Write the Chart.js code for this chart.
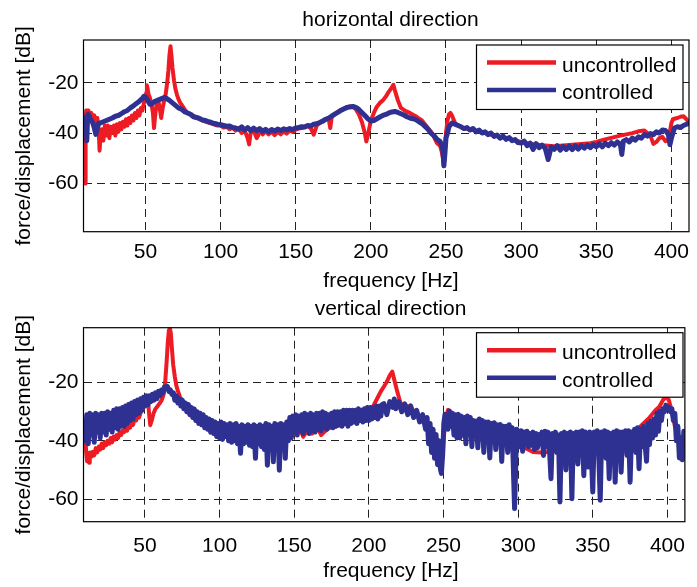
<!DOCTYPE html>
<html>
<head>
<meta charset="utf-8">
<script src="https://cdn.jsdelivr.net/npm/chart.js@4.4.0/dist/chart.umd.min.js"></script>
<style>
html, body { margin: 0; padding: 0; background: #fff; }
#wrap { position: relative; width: 697px; height: 587px; background: #fff; }
#wrap canvas { position: absolute; left: 0; top: 0; }
</style>
</head>
<body>
<div id="wrap">
    <canvas id="hChart" width="697" height="587"></canvas>
    <canvas id="vChart" width="697" height="587"></canvas>
</div>
<script>
const freqTicks = [50, 100, 150, 200, 250, 300, 350, 400];
const dbTicks = [-60, -40, -20];
const seriesNames = ['uncontrolled', 'controlled'];

// horizontal direction, uncontrolled
const hFreqUnc = [
    9.5, 9.8, 10.2, 10.6, 11, 11.5, 12, 13, 14, 15,
    16, 17, 18, 19, 19.5, 20, 21, 22, 23, 24,
    25, 26, 27, 28, 29, 30, 31, 32, 33, 34,
    35, 36, 37, 38, 39, 40, 41, 42, 43, 44,
    45, 46, 47, 48, 49, 50, 50.5, 51, 51.5, 52,
    53, 54, 55, 55.7, 56.5, 57.5, 58.5, 59.5, 60.5, 61.5,
    62.5, 63.5, 64.5, 65.3, 66, 66.7, 67.3, 68, 69, 70,
    71, 72, 73, 74, 76, 78, 80, 82, 84, 86,
    88, 90, 92, 94, 96, 98, 100, 102, 104, 106,
    108, 110, 112, 114, 116, 118, 119, 120, 122, 124,
    125, 126, 128, 130, 132, 134, 136, 138, 140, 142,
    144, 146, 148, 150, 152, 154, 156, 158, 160, 162,
    164, 166, 168, 170, 172, 173, 174, 176, 178, 180,
    182, 184, 186, 188, 190, 192, 194, 196, 197, 198,
    200, 202, 204, 206, 208, 210, 212, 214, 215, 216,
    218, 220, 222, 224, 226, 228, 230, 232, 234, 236,
    238, 240, 242, 244, 246, 247, 248, 248.6, 249.3, 250,
    251, 252, 253, 254, 255, 256, 257.5, 259, 261, 263,
    266, 270, 274, 278, 282, 286, 290, 294, 298, 302,
    306, 310, 314, 318, 322, 326, 330, 334, 338, 342,
    346, 350, 354, 358, 362, 366, 370, 374, 378, 382,
    386, 388, 390, 392, 394, 396, 398, 400, 401, 402,
    404, 406, 408, 410, 412
];
const hDbUnc = [
    -35, -60, -33, -31, -31.5, -32, -31, -33, -32, -34,
    -33, -36, -34, -40, -47, -42, -38.5, -43, -37, -41,
    -37, -42, -37.5, -40, -37, -41, -36.5, -39.5, -36, -38.5,
    -35.5, -37.5, -34.5, -37, -34, -36, -33, -35, -32, -34,
    -31, -33, -30, -31, -28, -27, -24, -21, -22.5, -24.5,
    -26, -28.5, -32, -38, -33, -28, -27, -30, -34, -30,
    -27, -24.5, -20, -15, -9, -5.5, -9, -14, -19, -22.5,
    -24.8, -26.5, -27.8, -28.7, -30.5, -32, -32.5, -33.2, -34, -34.5,
    -35, -35.5, -35.8, -36.2, -36.6, -37, -37, -37.8, -37.5, -38.5,
    -37.8, -39, -38, -40, -39, -42, -44.5, -40, -39, -42,
    -41, -39, -40.5, -39.2, -40.5, -39.5, -40.8, -39.5, -40.5, -39.4,
    -40.2, -39, -39.6, -38.6, -38.2, -38, -37.5, -37.2, -38, -40.6,
    -37, -36, -35.5, -34.5, -34.5, -38, -33.5, -32.5, -31.6, -30.8,
    -30.2, -29.6, -29.4, -29.5, -30.5, -32.5, -35.5, -40, -43.3, -41,
    -35, -32, -29.5, -28, -27, -25.5, -23.5, -21.8, -20.8, -23,
    -27, -30, -30.8, -31.5, -32, -32.7, -33.3, -34.2, -35, -36.5,
    -38, -39.5, -41.5, -44, -45, -47, -50, -53, -47, -40,
    -35, -32.5, -32, -33, -34.5, -36, -36.7, -37.2, -37.8, -38.2,
    -38.5, -39, -39.6, -40.3, -41, -41.5, -42, -42.6, -43.2, -43.8,
    -44.2, -44.5, -44.8, -45, -45.2, -45, -44.8, -44.6, -44.4, -44.2,
    -44, -43.5, -42.8, -42.2, -41.6, -41, -40.5, -40, -39.3, -39,
    -41, -44.3, -43.5, -42, -41.5, -43.2, -42.6, -36, -34.5, -34.3,
    -34, -33.5, -33.3, -34.5, -36
];

// horizontal direction, controlled
const hFreqCtl = [
    9.5, 10, 10.5, 11, 11.5, 12, 13, 14, 15, 16,
    17, 18, 19, 20, 22, 24, 26, 28, 30, 32,
    34, 36, 38, 40, 42, 44, 46, 48, 49, 50,
    51, 52, 53, 54, 56, 58, 60, 62, 63, 64,
    66, 68, 70, 72, 74, 76, 78, 80, 82, 84,
    86, 88, 90, 92, 94, 96, 98, 100, 102, 104,
    106, 108, 110, 112, 114, 116, 118, 120, 122, 124,
    126, 128, 130, 132, 134, 136, 138, 140, 142, 144,
    146, 148, 150, 152, 154, 156, 158, 160, 162, 164,
    166, 168, 170, 172, 174, 176, 178, 180, 182, 184,
    186, 188, 190, 192, 194, 196, 198, 200, 202, 204,
    206, 208, 210, 212, 214, 216, 218, 220, 222, 224,
    226, 228, 230, 232, 234, 236, 238, 240, 242, 244,
    246, 247, 248, 248.6, 249.3, 250, 251, 252, 254, 256,
    258, 260, 262, 264, 266, 268, 270, 272, 274, 276,
    278, 280, 282, 284, 286, 288, 290, 292, 294, 296,
    298, 300, 302, 304, 306, 308, 310, 312, 314, 316,
    318, 320, 322, 324, 326, 328, 330, 332, 334, 336,
    338, 340, 342, 344, 346, 348, 350, 352, 354, 356,
    358, 360, 362, 364, 366, 367, 368, 370, 372, 374,
    376, 378, 380, 382, 384, 386, 388, 390, 392, 394,
    396, 398, 399, 400, 402, 404, 406, 408, 410, 412
];
const hDbCtl = [
    -37, -35, -33.5, -43, -34, -32.5, -34, -35, -36, -38,
    -40.5, -38, -36, -36, -35.5, -35, -34.5, -34, -33.3, -33,
    -32.3, -31.5, -31, -30, -29.2, -28.2, -27.3, -26.2, -25.4, -25.6,
    -26.5, -27.5, -28.5, -28.5, -27.5, -27, -26.5, -26, -25.8, -26.2,
    -27, -28, -29, -30, -30.5, -31.5, -32, -32.5, -33.5, -33.8,
    -34.2, -34.8, -35, -35.5, -35.8, -36.2, -36.5, -36.7, -37, -37.3,
    -37.2, -37.8, -38, -38.5, -37.5, -38.8, -37.8, -39, -38, -39,
    -38.2, -39.3, -38.5, -39.5, -38.6, -39.2, -38.4, -39, -38.3, -38.8,
    -38.2, -38.6, -38, -37.8, -37.5, -37.6, -37, -37.2, -36.5, -36.3,
    -35.8, -35.2, -34.5, -34, -33.2, -32.5, -31.8, -31, -30.4, -29.9,
    -29.6, -29.4, -29.8, -30.6, -31.8, -33, -34.3, -35.2, -35, -34.3,
    -33.6, -33, -32.6, -32, -31.6, -31.4, -31.8, -32.3, -32.8, -33.5,
    -34, -34.3, -34.7, -35.5, -36.2, -37.3, -38.5, -40, -41, -42.5,
    -43.3, -44.5, -47, -53, -48, -42, -40, -37.5, -36, -36.5,
    -37, -37.5, -38.2, -37.8, -38.8, -38.2, -39.5, -38.8, -40, -39.5,
    -40.6, -40, -41.3, -40.8, -42, -41.2, -42.5, -41.8, -43, -42.6,
    -43.8, -44, -43.2, -45, -44, -46.5, -44.2, -45.8, -44.8, -46,
    -50.5, -45.5, -46.5, -45, -46.8, -45.3, -46.5, -45.2, -46.6, -45,
    -46.4, -45, -46, -44.8, -45.8, -44.6, -45.4, -44.2, -45.5, -44,
    -45, -43.8, -44.8, -43.5, -44.4, -48.5, -43.2, -42.6, -43.5, -42,
    -42.8, -41.5, -42, -40.6, -41.2, -40.2, -40.6, -39.5, -40, -38.8,
    -39, -40.5, -44.6, -42, -38, -37.5, -37.8, -37, -36.5, -36
];

// vertical direction, uncontrolled
const vFreqUnc = [
    9.5, 10, 10.6, 11.2, 11.8, 12.5, 13, 14, 15, 16,
    17, 18, 19, 20, 21, 22, 23, 24, 25, 26,
    27, 28, 29, 30, 31, 32, 33, 34, 35, 36,
    37, 38, 39, 40, 41, 42, 43, 44, 45, 46,
    47, 48, 49, 50, 51, 51.5, 52, 52.8, 53.5, 54.5,
    55.7, 57, 58.5, 60, 61.2, 62.5, 63.5, 64.5, 65.3, 66,
    66.7, 67.3, 68, 68.9, 70, 71, 72.2, 73.5, 75.5, 78,
    80, 84, 88, 92, 96, 100, 104, 108, 112, 116,
    120, 124, 128, 132, 136, 140, 144, 148, 150, 152,
    154, 156, 158, 160, 162, 164, 166, 168, 170, 172,
    174, 178, 182, 186, 190, 194, 198, 200, 202, 204,
    206, 208, 210, 212, 214, 215.7, 217, 219, 221.2, 224,
    227.8, 232, 236, 240, 244, 247, 248.6, 250, 251.5, 253,
    255, 258, 262, 266, 270, 275, 280, 285, 290, 295,
    300, 305, 310, 315, 320, 325, 330, 335, 340, 345,
    350, 355, 360, 365, 370, 375, 380, 385, 388, 392,
    394.6, 397, 399, 401, 403.5, 405, 406.8, 408, 410.3, 412
];
const vDbUnc = [
    -36, -38, -44, -47, -46, -47.5, -44, -45.5, -43.8, -45,
    -42.5, -44, -42, -43, -40.9, -42.5, -40.5, -41.5, -40, -41,
    -39, -40.5, -38.5, -39.5, -38, -39, -37, -38, -36.5, -37,
    -35.5, -36.5, -34.5, -35.5, -33.4, -34.5, -32.5, -33, -31.5, -32,
    -30.5, -29.5, -28.5, -27, -25, -24.8, -26, -31, -34.6, -33,
    -30.6, -29, -28, -27, -26, -24, -20, -12.8, -6, -2,
    -1.3, -3, -8, -13.9, -18, -21, -23.1, -25, -26.6, -28.5,
    -30, -32, -33, -34.5, -35.5, -36.5, -37, -37.5, -38, -38,
    -38.5, -38.5, -38.5, -38, -38, -38.5, -38, -38.2, -37.5, -37,
    -36, -38.6, -37, -36, -37.5, -36.5, -36, -38, -37, -36,
    -35.5, -35, -34.5, -34, -33.5, -33, -32, -31, -29, -27,
    -25, -23, -21.4, -19.7, -17.5, -16.2, -19, -23, -27.1, -27.7,
    -28.3, -31, -33, -36, -42, -47, -49, -40, -32, -29.4,
    -31, -33, -34, -35, -36, -37, -38, -39, -40, -40.5,
    -41, -42.5, -43.8, -44, -43.8, -43.5, -45, -45, -45, -44.5,
    -44, -43, -42, -40.5, -39, -37.5, -36, -33.5, -32, -29.5,
    -28.3, -26, -24.8, -26, -31, -35, -37.8, -39, -40.1, -41
];

// vertical direction, controlled
const vFreqCtl = [
    9.5, 10, 11, 12, 13, 14, 15, 16, 17, 18,
    19, 20, 21, 22, 23, 24, 25, 26, 27, 28,
    29, 30, 31, 32, 33, 34, 35, 36, 37, 38,
    39, 40, 41, 42, 43, 44, 45, 46, 47, 48,
    49, 50, 51, 52, 53, 54, 55, 56, 57, 58,
    59, 60, 61, 62, 63, 64, 65, 66, 67, 68,
    69, 70, 71, 72, 73, 74, 75, 76, 77, 78,
    79, 80, 81, 82, 83, 84, 85, 86, 87, 88,
    89, 90, 91, 92, 93, 94, 95, 96, 97, 98,
    99, 100, 101, 102, 103, 104, 105, 106, 107, 108,
    109, 110, 111, 112, 113, 114, 115, 116, 117, 118,
    119, 120, 121, 122, 123, 124, 125, 126, 127, 128,
    129, 130, 131, 132, 133, 134, 135, 136, 137, 138,
    139, 140, 141, 142, 143, 144, 145, 146, 147, 148,
    149, 150, 151, 152, 153, 154, 155, 156, 157, 158,
    159, 160, 161, 162, 163, 164, 165, 166, 167, 168,
    169, 170, 171, 172, 173, 174, 175, 176, 177, 178,
    179, 180, 181, 182, 183, 184, 185, 186, 187, 188,
    189, 190, 191, 192, 193, 194, 195, 196, 197, 198,
    199, 200, 201, 202, 203, 204, 205, 206, 207, 208,
    209,
    210, 212, 214, 216, 217, 218, 220, 222, 224, 226,
    228, 230, 232, 234, 236, 238, 239, 240, 241, 242,
    243, 244, 245, 246, 247, 248, 248.6, 249.5, 250.2, 251,
    252, 253, 254, 255, 256, 257, 258, 259, 260, 261,
    262, 263, 264, 265, 266, 267, 268, 269, 270, 271,
    272, 273, 274, 275, 276, 277, 278, 279, 280, 281,
    282, 283, 284, 285, 286, 287, 288, 289, 290, 291,
    292, 293, 294, 295, 296, 297.6, 299,
    300, 301, 302, 303, 304, 305, 306, 307, 308, 309,
    310, 311, 312, 313, 314, 315, 316, 317, 318, 319,
    320, 321, 322, 323, 324, 325, 326, 327, 328, 329,
    330, 331, 332, 333, 334, 335, 336, 337, 338, 339,
    340, 341, 342, 343, 344, 345, 346, 347, 348, 349,
    350, 351, 352, 353, 354, 355, 356, 357, 358, 359,
    360, 361, 362, 363, 364, 365, 366, 367, 368, 369,
    370, 371, 372, 373, 374, 375, 376, 377, 378, 379,
    380, 381, 382, 383, 384, 385, 386, 387,
    388, 389, 390, 391, 392, 393, 394, 395, 396, 397,
    398, 399, 400, 401, 402, 403, 404, 405, 406, 407,
    408, 409, 410, 411, 412
];
const vDbCtl = [
    -36, -40, -31, -41, -30.5, -38, -31, -40.5, -30.5, -37,
    -31, -39, -30.5, -37, -30.5, -38, -30, -36, -30.5, -37,
    -29.5, -35.5, -29, -36, -29, -35, -28.5, -35, -28, -34,
    -27.5, -33, -27, -32.5, -26.5, -31, -26, -30.5, -25.5, -29.5,
    -25, -28, -24.5, -27.5, -24.5, -26.5, -24, -26, -23.5, -25.5,
    -23, -24.5, -22.5, -23.5, -21.5, -22, -21.3, -23, -22.5, -24,
    -23.5, -26, -24.5, -27, -25.5, -28, -26, -29, -27, -30,
    -27.5, -31, -28.5, -32, -29, -33, -30, -34, -30.5, -34.5,
    -31, -35.5, -32, -36, -32.5, -37, -33, -37.5, -33.5, -38.5,
    -34, -39, -33.5, -39.5, -34, -38.5, -34.5, -40, -34, -40.5,
    -34.5, -40, -34, -41, -35, -44.3, -34.5, -41, -35, -40.5,
    -34.5, -41.5, -35, -42, -34.5, -46, -35, -41, -34.5, -42,
    -35, -43, -34, -48.4, -34.5, -41.5, -35, -47.2, -34, -42,
    -34.5, -50.1, -34, -42.5, -34.5, -46, -33.5, -40, -32, -39,
    -31.5, -37, -31, -38, -31.5, -36.5, -31, -37.5, -30.5, -36,
    -31, -37.5, -30.5, -36.5, -31, -37, -30.5, -36, -30.5, -36.5,
    -30, -35.5, -30.5, -36, -31, -35, -30.5, -35.5, -30, -35,
    -30, -34.5, -30, -35, -29.5, -34, -29.5, -35, -29.5, -34,
    -29.5, -33.5, -29.5, -34, -29, -33, -29.5, -33.5, -29, -33,
    -28.5, -33, -28.5, -32.5, -28.5, -32, -28, -32.5, -28, -31.5,
    -27.5,
    -27.2, -31, -26.5, -28.5, -25.6, -29, -26.5, -30, -27.3, -31,
    -28, -32, -29.5, -33.5, -31, -36, -32, -41, -34, -44,
    -36, -46, -37.8, -48.2, -40, -50, -51.2, -44, -34, -30.9,
    -31.5, -36, -29.7, -35, -30.5, -38, -31, -39, -30.9, -39,
    -31.5, -38, -32, -41, -31.5, -37, -32, -42, -33, -38.5,
    -33.2, -42.4, -32.5, -37.5, -33, -44, -33.5, -39, -33.5, -45.9,
    -34, -39, -33.8, -43, -34.5, -40, -34.4, -47.1, -35, -40,
    -35, -44, -34.5, -39, -35.5, -63.3, -36,
    -37, -42, -36.5, -43.6, -37, -41, -36.7, -42, -37.5, -41.5,
    -37, -43, -37.5, -42.4, -37.8, -41, -37, -45, -36.7, -42,
    -37, -43, -53, -37.5, -42, -37, -44, -38, -61, -37.5,
    -43, -37, -50, -37.5, -44, -37, -59.9, -37.5, -43, -37,
    -48, -37, -44, -36.5, -52, -37, -45, -49, -37, -44,
    -57.6, -37, -43, -36.5, -45, -60.4, -37, -44, -36.5, -46,
    -37, -53, -37.5, -43, -37, -54.2, -36.5, -44, -37, -50.8,
    -37, -43, -36.5, -45, -36.5, -54.2, -37, -42, -36, -44,
    -35.5, -49.6, -36, -42, -35, -41, -47, -34,
    -41.3, -33.2, -39, -32.5, -38, -30.5, -36.7, -29.8, -33, -29,
    -30, -27.7, -29, -28.5, -30, -29, -33, -30.6, -40, -35,
    -45.9, -39, -46.5, -36.7, -38
];

const RED = 'rgb(237, 28, 36)';
const BLUE = 'rgb(46, 49, 146)';
const FONT = '"Liberation Sans", Arial, Helvetica, sans-serif';

function toPoints (freqs, values) {
    return freqs.map((f, i) => ({ x: f, y: values[i] }));
}

// frame, legend and the texts around each panel
function panelDecor (cfg) {
    return {
        id: 'panelDecor',
        afterDraw (chart) {
            const { ctx, chartArea: a } = chart;
            ctx.save();
            ctx.strokeStyle = '#000';
            ctx.lineWidth = 1.2;
            ctx.setLineDash([]);
            ctx.strokeRect(a.left, a.top, a.right - a.left, a.bottom - a.top);

            // legend
            const lx = 476.5, ly = cfg.legendTop, lw = 206.5, lh = 64.5;
            ctx.fillStyle = '#fff';
            ctx.fillRect(lx, ly, lw, lh);
            ctx.strokeRect(lx, ly, lw, lh);
            ctx.font = '21px ' + FONT;
            ctx.textAlign = 'left';
            ctx.textBaseline = 'alphabetic';
            chart.data.datasets.forEach((ds, i) => {
                const y = ly + 17.5 + i * 27.5;
                ctx.strokeStyle = ds.borderColor;
                ctx.lineWidth = 4.5;
                ctx.beginPath();
                ctx.moveTo(487, y);
                ctx.lineTo(556, y);
                ctx.stroke();
                ctx.fillStyle = '#000';
                ctx.fillText(ds.label, 562, y + 9);
            });

            ctx.fillStyle = '#000';
            ctx.textAlign = 'center';
            ctx.fillText(cfg.title, 390.5, cfg.titleY);
            ctx.fillText('frequency [Hz]', 391, cfg.xLabelY);
            ctx.translate(30, (a.top + a.bottom) / 2);
            ctx.rotate(-Math.PI / 2);
            ctx.fillText('force/displacement [dB]', 0, 0);
            ctx.restore();
        }
    };
}

function makePanel (canvasId, cfg) {
    return new Chart(document.getElementById(canvasId), {
        type: 'line',
        data: {
            datasets: [
                {
                    label: seriesNames[0],
                    data: toPoints(cfg.uncFreq, cfg.uncDb),
                    borderColor: RED,
                    borderWidth: 4,
                    order: 2
                },
                {
                    label: seriesNames[1],
                    data: toPoints(cfg.ctlFreq, cfg.ctlDb),
                    borderColor: BLUE,
                    borderWidth: 5,
                    order: 1
                }
            ]
        },
        plugins: [panelDecor(cfg)],
        options: {
            responsive: false,
            animation: false,
            events: [],
            devicePixelRatio: 1,
            layout: {
                padding: { top: cfg.areaTop, bottom: 587 - cfg.areaBottom - 30, left: 0, right: 2.3 }
            },
            elements: {
                point: { radius: 0 },
                line: { tension: 0, borderJoinStyle: 'round', borderCapStyle: 'round', fill: false }
            },
            plugins: {
                legend: { display: false },
                tooltip: { enabled: false },
                title: { display: false }
            },
            scales: {
                x: {
                    type: 'linear',
                    min: 8.8,
                    max: 411.7,
                    afterBuildTicks: s => { s.ticks = freqTicks.map(v => ({ value: v })); },
                    afterFit: s => { s.height = 30; },
                    ticks: {
                        color: '#000',
                        font: { family: FONT, size: 21 },
                        padding: cfg.xTickPad,
                        maxRotation: 0,
                        autoSkip: false
                    },
                    grid: { color: '#222', lineWidth: 1, drawTicks: false },
                    border: { display: false, dash: [8, 5] }
                },
                y: {
                    min: cfg.yMin,
                    max: cfg.yMax,
                    afterBuildTicks: s => { s.ticks = dbTicks.map(v => ({ value: v })); },
                    afterFit: s => { s.width = 83.5; },
                    ticks: {
                        color: '#000',
                        font: { family: FONT, size: 21 },
                        padding: 5
                    },
                    grid: { color: '#222', lineWidth: 1, drawTicks: false },
                    border: { display: false, dash: [8, 5] }
                }
            }
        }
    });
}

makePanel('hChart', {
    title: 'horizontal direction',
    titleY: 26,
    xLabelY: 287,
    legendTop: 45,
    areaTop: 40,
    areaBottom: 231.7,
    xTickPad: 8,
    yMin: -79.2,
    yMax: -3,
    uncFreq: hFreqUnc, uncDb: hDbUnc,
    ctlFreq: hFreqCtl, ctlDb: hDbCtl
});

makePanel('vChart', {
    title: 'vertical direction',
    titleY: 315,
    xLabelY: 577,
    legendTop: 332.7,
    areaTop: 327.7,
    areaBottom: 521.7,
    xTickPad: 12,
    yMin: -67.8,
    yMax: -1.1,
    uncFreq: vFreqUnc, uncDb: vDbUnc,
    ctlFreq: vFreqCtl, ctlDb: vDbCtl
});
</script>
</body>
</html>
